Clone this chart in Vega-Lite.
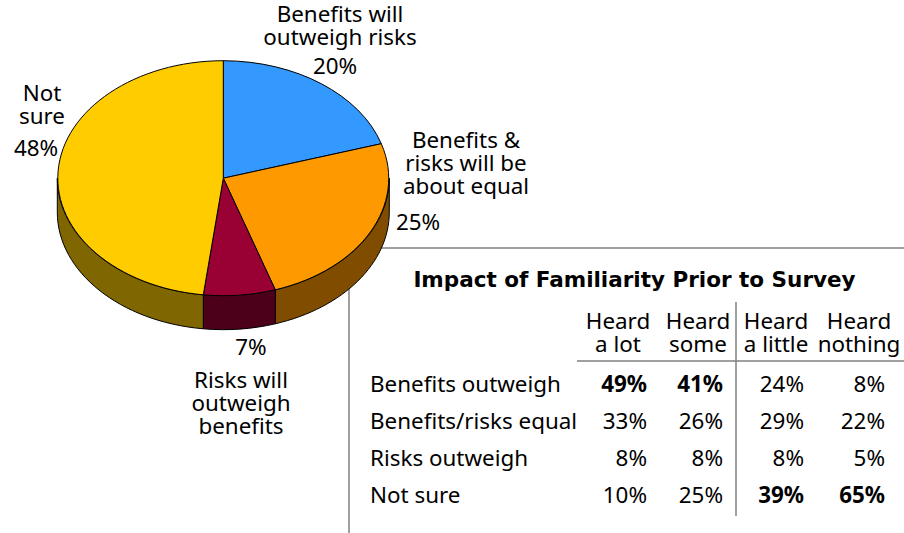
{"$schema":"https://vega.github.io/schema/vega-lite/v6.json","width":904,"height":533,"autosize":{"type":"fit","contains":"padding"},"padding":0,"background":"white","config":{"view":{"stroke":null},"axis":{"domain":false},"text":{"font":"Noto Sans","fontSize":22.4,"color":"black","lineBreak":"\n","lineHeight":23}},"datasets":{"slices":[{"slice":"Benefits will outweigh risks","idx":1,"share":0.20,"label":"Benefits will\noutweigh risks"},{"slice":"Benefits & risks will be about equal","idx":2,"share":0.25,"label":"Benefits &\nrisks will be\nabout equal"},{"slice":"Risks will outweigh benefits","idx":3,"share":0.07,"label":"Risks will\noutweigh\nbenefits"},{"slice":"Not sure","idx":4,"share":0.48,"label":"Not\nsure"}],"columns":[{"column":"Heard a lot","col":1,"header":"Heard\na lot"},{"column":"Heard some","col":2,"header":"Heard\nsome"},{"column":"Heard a little","col":3,"header":"Heard\na little"},{"column":"Heard nothing","col":4,"header":"Heard\nnothing"}],"table":[{"row":"Benefits outweigh","col":1,"share":0.49},{"row":"Benefits outweigh","col":2,"share":0.41},{"row":"Benefits outweigh","col":3,"share":0.24},{"row":"Benefits outweigh","col":4,"share":0.08},{"row":"Benefits/risks equal","col":1,"share":0.33},{"row":"Benefits/risks equal","col":2,"share":0.26},{"row":"Benefits/risks equal","col":3,"share":0.29},{"row":"Benefits/risks equal","col":4,"share":0.22},{"row":"Risks outweigh","col":1,"share":0.08},{"row":"Risks outweigh","col":2,"share":0.08},{"row":"Risks outweigh","col":3,"share":0.08},{"row":"Risks outweigh","col":4,"share":0.05},{"row":"Not sure","col":1,"share":0.10},{"row":"Not sure","col":2,"share":0.25},{"row":"Not sure","col":3,"share":0.39},{"row":"Not sure","col":4,"share":0.65}],"rows":[{"row":"Benefits outweigh"},{"row":"Benefits/risks equal"},{"row":"Risks outweigh"},{"row":"Not sure"}],"title":[{"title":"Impact of Familiarity Prior to Survey"}],"one":[{"rule":1}]},"resolve":{"scale":{"x":"independent","y":"independent","color":"independent","shape":"independent"}},"layer":[{"data":{"name":"one"},"mark":{"type":"rule","color":"#808080","strokeWidth":1.5},"encoding":{"x":{"datum":349,"type":"quantitative","scale":{"domain":[0,904],"range":[0,904]},"axis":null},"x2":{"datum":904},"y":{"datum":248,"type":"quantitative","scale":{"domain":[0,533],"range":[0,533]},"axis":null}}},{"data":{"name":"one"},"mark":{"type":"rule","color":"#808080","strokeWidth":1.5},"encoding":{"x":{"datum":349,"type":"quantitative","scale":{"domain":[0,904],"range":[0,904]},"axis":null},"y":{"datum":248,"type":"quantitative","scale":{"domain":[0,533],"range":[0,533]},"axis":null},"y2":{"datum":533}}},{"data":{"name":"one"},"mark":{"type":"rule","color":"#808080","strokeWidth":1.5},"encoding":{"x":{"datum":577,"type":"quantitative","scale":{"domain":[0,904],"range":[0,904]},"axis":null},"x2":{"datum":904},"y":{"datum":361,"type":"quantitative","scale":{"domain":[0,533],"range":[0,533]},"axis":null}}},{"data":{"name":"one"},"mark":{"type":"rule","color":"#808080","strokeWidth":1.5},"encoding":{"x":{"datum":736,"type":"quantitative","scale":{"domain":[0,904],"range":[0,904]},"axis":null},"y":{"datum":302,"type":"quantitative","scale":{"domain":[0,533],"range":[0,533]},"axis":null},"y2":{"datum":516}}},{"data":{"name":"slices"},"transform":[{"filter":"datum.idx > 1"}],"mark":{"type":"point","filled":true,"size":4,"opacity":1,"stroke":"black","strokeWidth":1},"encoding":{"x":{"datum":223.3,"type":"quantitative","scale":{"domain":[0,904],"range":[0,904]},"axis":null},"y":{"datum":178.2,"type":"quantitative","scale":{"domain":[0,533],"range":[0,533]},"axis":null},"shape":{"field":"idx","type":"nominal","legend":null,"scale":{"domain":[2,3,4],"range":["M166,0 A166,117.5 0 0 1 52,111.6 L52,145.6 A166,117.5 0 0 0 166,34 Z","M52,111.6 A166,117.5 0 0 1 -20,116.6 L-20,150.6 A166,117.5 0 0 0 52,145.6 Z","M-20,116.6 A166,117.5 0 0 1 -166,0 L-166,34 A166,117.5 0 0 0 -20,150.6 Z"]}},"color":{"field":"idx","type":"nominal","legend":null,"scale":{"domain":[2,3,4],"range":["#804D00","#4D001A","#806600"]}}}},{"data":{"name":"slices"},"mark":{"type":"point","filled":true,"size":4,"opacity":1,"stroke":"black","strokeWidth":1},"encoding":{"x":{"datum":223.3,"type":"quantitative","scale":{"domain":[0,904],"range":[0,904]},"axis":null},"y":{"datum":178.2,"type":"quantitative","scale":{"domain":[0,533],"range":[0,533]},"axis":null},"shape":{"field":"idx","type":"nominal","legend":null,"scale":{"domain":[1,2,3,4],"range":["M0,0 L0,-117.5 A166,117.5 0 0 1 158,-34.5 Z","M0,0 L158,-34.5 A166,117.5 0 0 1 52,111.6 Z","M0,0 L52,111.6 A166,117.5 0 0 1 -20,116.6 Z","M0,0 L-20,116.6 A166,117.5 0 0 1 0,-117.5 Z"]}},"color":{"field":"idx","type":"nominal","legend":null,"scale":{"domain":[1,2,3,4],"range":["#3399FF","#FF9900","#990033","#FFCC00"]}}}},{"data":{"name":"slices"},"mark":{"type":"text","align":"center","baseline":"middle"},"encoding":{"text":{"field":"label"},"x":{"field":"idx","type":"quantitative","axis":null,"scale":{"domain":[1,2,3,4],"range":[340,466,241,42]}},"y":{"field":"idx","type":"quantitative","axis":null,"scale":{"domain":[1,2,3,4],"range":[15,141,381,94]}}}},{"data":{"name":"slices"},"mark":{"type":"text","align":"center","baseline":"middle"},"encoding":{"text":{"field":"share","format":".0%"},"x":{"field":"idx","type":"quantitative","axis":null,"scale":{"domain":[1,2,3,4],"range":[335,418,251,36]}},"y":{"field":"idx","type":"quantitative","axis":null,"scale":{"domain":[1,2,3,4],"range":[67,223,348,149]}}}},{"data":{"name":"title"},"mark":{"type":"text","align":"center","baseline":"middle","fontWeight":"bold","font":"DejaVu Sans","fontSize":21.5},"encoding":{"text":{"field":"title"},"x":{"datum":634.5,"type":"quantitative","scale":{"domain":[0,904],"range":[0,904]},"axis":null},"y":{"datum":281,"type":"quantitative","scale":{"domain":[0,533],"range":[0,533]},"axis":null}}},{"data":{"name":"columns"},"mark":{"type":"text","align":"center","baseline":"middle"},"encoding":{"text":{"field":"header"},"x":{"field":"col","type":"quantitative","axis":null,"scale":{"domain":[1,2,3,4],"range":[618,698,776,859]}},"y":{"datum":322,"type":"quantitative","scale":{"domain":[0,533],"range":[0,533]},"axis":null}}},{"data":{"name":"rows"},"mark":{"type":"text","align":"left","baseline":"middle"},"encoding":{"text":{"field":"row"},"x":{"datum":370,"type":"quantitative","scale":{"domain":[0,904],"range":[0,904]},"axis":null},"y":{"field":"row","type":"nominal","sort":null,"axis":null,"scale":{"type":"point","padding":0,"domain":["Benefits outweigh","Benefits/risks equal","Risks outweigh","Not sure"],"range":[385,496]}}}},{"data":{"name":"table"},"transform":[{"filter":"datum.share < 0.39"}],"mark":{"type":"text","align":"right","baseline":"middle"},"encoding":{"text":{"field":"share","format":".0%"},"x":{"field":"col","type":"quantitative","axis":null,"scale":{"domain":[1,2,3,4],"range":[647,723,804,885]}},"y":{"field":"row","type":"nominal","sort":null,"axis":null,"scale":{"type":"point","padding":0,"domain":["Benefits outweigh","Benefits/risks equal","Risks outweigh","Not sure"],"range":[385,496]}}}},{"data":{"name":"table"},"transform":[{"filter":"datum.share >= 0.39"}],"mark":{"type":"text","align":"right","baseline":"middle","fontWeight":"bold"},"encoding":{"text":{"field":"share","format":".0%"},"x":{"field":"col","type":"quantitative","axis":null,"scale":{"domain":[1,2,3,4],"range":[647,723,804,885]}},"y":{"field":"row","type":"nominal","sort":null,"axis":null,"scale":{"type":"point","padding":0,"domain":["Benefits outweigh","Benefits/risks equal","Risks outweigh","Not sure"],"range":[385,496]}}}}]}
